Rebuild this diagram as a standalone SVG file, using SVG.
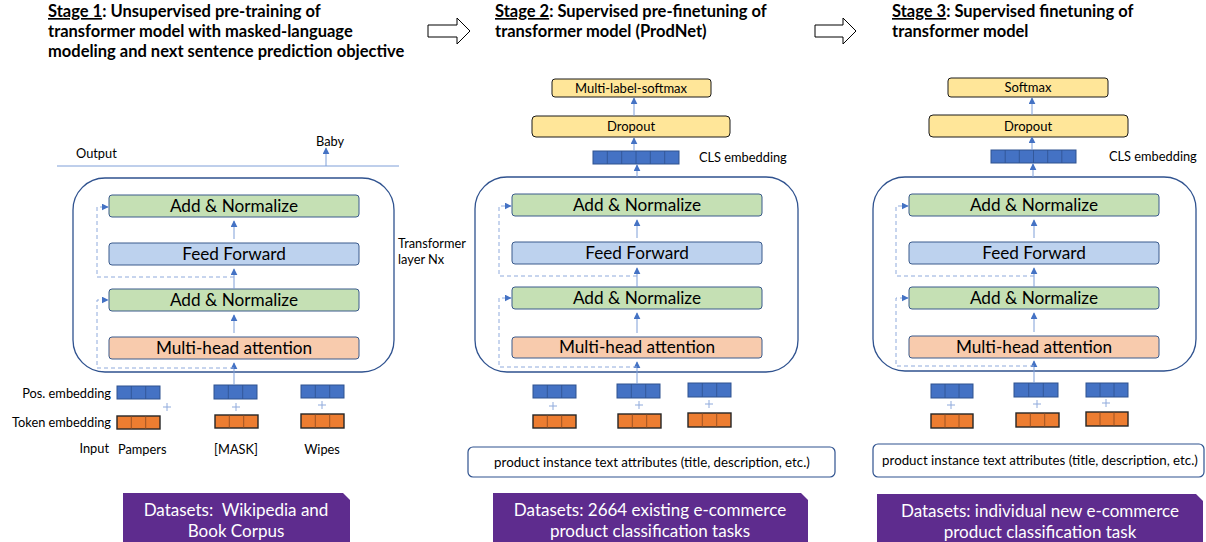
<svg xmlns="http://www.w3.org/2000/svg" width="1206" height="542" viewBox="0 0 1206 542">
<style>
text{font-family:Lato,"Liberation Sans",sans-serif;fill:#000}
.title{font-size:16.5px;font-weight:bold}
.ul{text-decoration:underline}
.outer{fill:none;stroke:#2F528F;stroke-width:1.3}
.box{stroke:#3A5A8C;stroke-width:1}
.green{fill:#C5E0B4}
.ffw{fill:#BDD2EE}
.mha{fill:#F8CBAD}
.yel{fill:#FFE699;stroke:#1a1a1a;stroke-width:1}
.btxt{font-size:17.2px;text-anchor:middle}
.stxt{font-size:13px;text-anchor:middle}
.lbl{font-size:12.8px}
.ptxt{font-size:13.3px;text-anchor:middle}
.pos{fill:#4472C4;stroke:#2F528F;stroke-width:1}
.tok{fill:#ED7D31;stroke:#262626;stroke-width:1.4}
.div{stroke:#2F528F;stroke-width:0.8}
.divo{stroke:#8a4a20;stroke-width:0.8}
.plus{stroke:#8FAADC;stroke-width:1;fill:none}
.ln{stroke:#7F9FD8;stroke-width:1;fill:none}
.dash{stroke:#8FAADC;stroke-width:1;fill:none;stroke-dasharray:4 3}
.prod{fill:#fff;stroke:#2F528F;stroke-width:1.2}
.ds{fill:#5E2C8E}
.dtxt{font-size:17px;fill:#fff;text-anchor:middle;white-space:pre}
.barrow{fill:#fff;stroke:#000;stroke-width:1}
</style>
<defs>
<marker id="ah" viewBox="0 0 10 10" refX="9" refY="5" markerWidth="7" markerHeight="7" markerUnits="userSpaceOnUse" orient="auto">
<path d="M0,0 L10,5 L0,10 z" fill="#4472C4"/>
</marker>
</defs>

<!-- Titles -->
<g id="title1">
<text class="title" x="48" y="17"><tspan class="ul">Stage 1</tspan>: Unsupervised pre-training of</text>
<text class="title" x="48" y="36.9">transformer model with masked-language</text>
<text class="title" x="48" y="56.8">modeling and next sentence prediction objective</text>
</g>
<g id="title2">
<text class="title" x="495" y="17"><tspan class="ul">Stage 2</tspan>: Supervised pre-finetuning of</text>
<text class="title" x="495" y="36.9">transformer model (ProdNet)</text>
</g>
<g id="title3">
<text class="title" x="892" y="17"><tspan class="ul">Stage 3</tspan>: Supervised finetuning of</text>
<text class="title" x="892" y="36.9">transformer model</text>
</g>
<g id="stage-arrow-1"><path class="barrow" d="M428,25 H457 V18 L470,31 L457,44 V37 H428 Z"/></g>
<g id="stage-arrow-2"><path class="barrow" d="M815,25 H843 V18 L856,31 L843,44 V37 H815 Z"/></g>

<!-- ============ STAGE 1 ============ -->
<g id="s1-output">
<text class="lbl" x="76" y="158">Output</text>
<text class="lbl" x="316" y="146">Baby</text>
<line class="ln" x1="57" y1="166" x2="399" y2="166"/>
</g>
<g id="s1-layer">
<rect class="outer" x="73" y="178" width="321" height="194" rx="32"/>
<text class="lbl" x="398" y="248">Transformer</text>
<text class="lbl" x="398" y="264">layer Nx</text>
</g>
<g id="s1-addnorm2"><rect class="box green" x="109" y="195" width="250" height="22" rx="3"/><text class="btxt" x="234" y="212">Add &amp; Normalize</text></g>
<g id="s1-ff"><rect class="box ffw" x="109" y="243" width="250" height="22" rx="3"/><text class="btxt" x="234" y="260">Feed Forward</text></g>
<g id="s1-addnorm1"><rect class="box green" x="109" y="289" width="250" height="22" rx="3"/><text class="btxt" x="234" y="306">Add &amp; Normalize</text></g>
<g id="s1-mha"><rect class="box mha" x="109" y="337" width="250" height="22" rx="3"/><text class="btxt" x="234" y="354">Multi-head attention</text></g>

<g id="s1-embeddings">
<text class="lbl" x="111" y="398" text-anchor="end">Pos. embedding</text>
<text class="lbl" x="111" y="427" text-anchor="end">Token embedding</text>
<text class="lbl" x="109" y="453" text-anchor="end">Input</text>
<text class="lbl" x="118" y="454">Pampers</text>
<text class="lbl" x="236" y="454" text-anchor="middle">[MASK]</text>
<text class="lbl" x="322" y="454" text-anchor="middle">Wipes</text>
<g id="s1-pos1"><rect class="pos" x="117" y="386" width="43" height="13"/><path class="div" d="M131.3,386v13M145.7,386v13"/></g>
<g id="s1-pos2"><rect class="pos" x="214" y="385" width="43" height="14"/><path class="div" d="M228.3,385v14M242.7,385v14"/></g>
<g id="s1-pos3"><rect class="pos" x="301" y="385" width="43" height="13"/><path class="div" d="M315.3,385v13M329.7,385v13"/></g>
<g id="s1-tok1"><rect class="tok" x="117" y="416" width="43" height="13"/><path class="divo" d="M131.3,416v13M145.7,416v13"/></g>
<g id="s1-tok2"><rect class="tok" x="215" y="415" width="43" height="13"/><path class="divo" d="M229.3,415v13M243.7,415v13"/></g>
<g id="s1-tok3"><rect class="tok" x="301" y="414" width="43" height="14"/><path class="divo" d="M315.3,414v14M329.7,414v14"/></g>
<path class="plus" d="M163,407h8M167,403v8M232,407h8M236,403v8M318,405h8M322,401v8"/>
</g>

<!-- ============ STAGE 2 ============ -->
<g id="s2-softmax"><rect class="yel" x="552" y="79" width="159" height="18" rx="3"/><text class="stxt" x="631" y="92.5">Multi-label-softmax</text></g>
<g id="s2-dropout"><rect class="yel" x="532" y="116" width="198" height="21" rx="4"/><text class="stxt" x="631" y="131">Dropout</text></g>
<g id="s2-cls">
<rect class="pos" x="593" y="151" width="86" height="13"/>
<path class="div" d="M607.3,151v13M621.7,151v13M636,151v13M650.3,151v13M664.7,151v13"/>
<text class="lbl" x="699" y="162">CLS embedding</text>
</g>
<g id="s2-layer"><rect class="outer" x="475" y="177" width="323" height="195" rx="32"/></g>
<g id="s2-addnorm2"><rect class="box green" x="512" y="194" width="250" height="22" rx="3"/><text class="btxt" x="637" y="211">Add &amp; Normalize</text></g>
<g id="s2-ff"><rect class="box ffw" x="512" y="242" width="250" height="22" rx="3"/><text class="btxt" x="637" y="259">Feed Forward</text></g>
<g id="s2-addnorm1"><rect class="box green" x="512" y="287" width="250" height="22" rx="3"/><text class="btxt" x="637" y="304">Add &amp; Normalize</text></g>
<g id="s2-mha"><rect class="box mha" x="512" y="337" width="250" height="21" rx="3"/><text class="btxt" x="637" y="353">Multi-head attention</text></g>
<g id="s2-embeddings">
<g id="s2-pos1"><rect class="pos" x="533" y="385" width="43" height="13"/><path class="div" d="M547.3,385v13M561.7,385v13"/></g>
<g id="s2-pos2"><rect class="pos" x="617" y="384" width="43" height="14"/><path class="div" d="M631.3,384v14M645.7,384v14"/></g>
<g id="s2-pos3"><rect class="pos" x="688" y="383" width="43" height="14"/><path class="div" d="M702.3,383v14M716.7,383v14"/></g>
<g id="s2-tok1"><rect class="tok" x="533" y="415" width="43" height="13"/><path class="divo" d="M547.3,415v13M561.7,415v13"/></g>
<g id="s2-tok2"><rect class="tok" x="618" y="414" width="43" height="14"/><path class="divo" d="M632.3,414v14M646.7,414v14"/></g>
<g id="s2-tok3"><rect class="tok" x="688" y="413" width="43" height="14"/><path class="divo" d="M702.3,413v14M716.7,413v14"/></g>
<path class="plus" d="M549,406h8M553,402v8M635,405h8M639,401v8M705,404h8M709,400v8"/>
</g>
<g id="s2-input"><rect class="prod" x="468" y="447" width="367" height="30" rx="5"/><text class="ptxt" x="652" y="466.5">product instance text attributes (title, description, etc.)</text></g>

<!-- ============ STAGE 3 ============ -->
<g id="s3-softmax"><rect class="yel" x="948" y="78" width="160" height="19" rx="3"/><text class="stxt" x="1028" y="92">Softmax</text></g>
<g id="s3-dropout"><rect class="yel" x="929" y="115" width="199" height="22" rx="4"/><text class="stxt" x="1028" y="130.5">Dropout</text></g>
<g id="s3-cls">
<rect class="pos" x="991" y="150" width="85" height="13"/>
<path class="div" d="M1005.2,150v13M1019.3,150v13M1033.5,150v13M1047.7,150v13M1061.8,150v13"/>
<text class="lbl" x="1109" y="161">CLS embedding</text>
</g>
<g id="s3-layer"><rect class="outer" x="873" y="177" width="323" height="194" rx="32"/></g>
<g id="s3-addnorm2"><rect class="box green" x="909" y="194" width="250" height="22" rx="3"/><text class="btxt" x="1034" y="211">Add &amp; Normalize</text></g>
<g id="s3-ff"><rect class="box ffw" x="909" y="242" width="250" height="22" rx="3"/><text class="btxt" x="1034" y="259">Feed Forward</text></g>
<g id="s3-addnorm1"><rect class="box green" x="909" y="287" width="250" height="22" rx="3"/><text class="btxt" x="1034" y="304">Add &amp; Normalize</text></g>
<g id="s3-mha"><rect class="box mha" x="909" y="336" width="250" height="22" rx="3"/><text class="btxt" x="1034" y="353">Multi-head attention</text></g>
<g id="s3-embeddings">
<g id="s3-pos1"><rect class="pos" x="931" y="384" width="42" height="14"/><path class="div" d="M945,384v14M959,384v14"/></g>
<g id="s3-pos2"><rect class="pos" x="1014" y="383" width="44" height="14"/><path class="div" d="M1028.7,383v14M1043.3,383v14"/></g>
<g id="s3-pos3"><rect class="pos" x="1086" y="383" width="42" height="14"/><path class="div" d="M1100,383v14M1114,383v14"/></g>
<g id="s3-tok1"><rect class="tok" x="931" y="414" width="42" height="14"/><path class="divo" d="M945,414v14M959,414v14"/></g>
<g id="s3-tok2"><rect class="tok" x="1016" y="413" width="43" height="14"/><path class="divo" d="M1030.3,413v14M1044.7,413v14"/></g>
<g id="s3-tok3"><rect class="tok" x="1086" y="412" width="42" height="14"/><path class="divo" d="M1100,412v14M1114,412v14"/></g>
<path class="plus" d="M947,405h8M951,401v8M1033,404h8M1037,400v8M1102,403h8M1106,399v8"/>
</g>
<g id="s3-input"><rect class="prod" x="873" y="444" width="331" height="33" rx="5"/><text class="ptxt" x="1040" y="465">product instance text attributes (title, description, etc.)</text></g>

<!-- ============ DATASETS ============ -->
<g id="ds1"><path class="ds" d="M123,493 H343 L350,500 V542 H123 Z"/><text class="dtxt" x="236" y="516">Datasets:  Wikipedia and</text><text class="dtxt" x="236" y="537">Book Corpus</text></g>
<g id="ds2"><path class="ds" d="M493,493 H801 L808,500 V542 H493 Z"/><text class="dtxt" x="650" y="516">Datasets: 2664 existing e-commerce</text><text class="dtxt" x="650" y="537">product classification tasks</text></g>
<g id="ds3"><path class="ds" d="M877,494 H1196 L1203,501 V542 H877 Z"/><text class="dtxt" x="1040" y="517">Datasets: individual new e-commerce</text><text class="dtxt" x="1040" y="538">product classification task</text></g>

<!-- ============ CONNECTORS ============ -->
<g id="connectors">
<!-- stage 1 -->
<line class="ln" x1="326" y1="166" x2="326" y2="148" marker-end="url(#ah)"/>
<line class="ln" x1="234" y1="385" x2="234" y2="363" marker-end="url(#ah)"/>
<line class="ln" x1="234" y1="333" x2="234" y2="315" marker-end="url(#ah)"/>
<line class="ln" x1="234" y1="289" x2="234" y2="269" marker-end="url(#ah)"/>
<line class="ln" x1="234" y1="239" x2="234" y2="221" marker-end="url(#ah)"/>
<polyline class="dash" points="234,368 97,368 97,300 108,300" marker-end="url(#ah)"/>
<polyline class="dash" points="234,277 97,277 97,207 108,207" marker-end="url(#ah)"/>
<!-- stage 2 -->
<line class="ln" x1="637" y1="384" x2="637" y2="362" marker-end="url(#ah)"/>
<line class="ln" x1="637" y1="333" x2="637" y2="313" marker-end="url(#ah)"/>
<line class="ln" x1="637" y1="287" x2="637" y2="268" marker-end="url(#ah)"/>
<line class="ln" x1="637" y1="238" x2="637" y2="220" marker-end="url(#ah)"/>
<line class="ln" x1="637" y1="177" x2="637" y2="165" marker-end="url(#ah)"/>
<line class="ln" x1="634" y1="151" x2="634" y2="138" marker-end="url(#ah)"/>
<line class="ln" x1="634" y1="116" x2="634" y2="98" marker-end="url(#ah)"/>
<polyline class="dash" points="637,367 499,367 499,298 511,298" marker-end="url(#ah)"/>
<polyline class="dash" points="637,276 499,276 499,206 511,206" marker-end="url(#ah)"/>
<!-- stage 3 -->
<line class="ln" x1="1034" y1="383" x2="1034" y2="361" marker-end="url(#ah)"/>
<line class="ln" x1="1034" y1="332" x2="1034" y2="313" marker-end="url(#ah)"/>
<line class="ln" x1="1034" y1="287" x2="1034" y2="268" marker-end="url(#ah)"/>
<line class="ln" x1="1034" y1="238" x2="1034" y2="220" marker-end="url(#ah)"/>
<line class="ln" x1="1033" y1="177" x2="1033" y2="164" marker-end="url(#ah)"/>
<line class="ln" x1="1032" y1="150" x2="1032" y2="137" marker-end="url(#ah)"/>
<line class="ln" x1="1032" y1="115" x2="1032" y2="98" marker-end="url(#ah)"/>
<polyline class="dash" points="1034,366 896,366 896,298 908,298" marker-end="url(#ah)"/>
<polyline class="dash" points="1034,276 896,276 896,206 908,206" marker-end="url(#ah)"/>
</g>
</svg>
